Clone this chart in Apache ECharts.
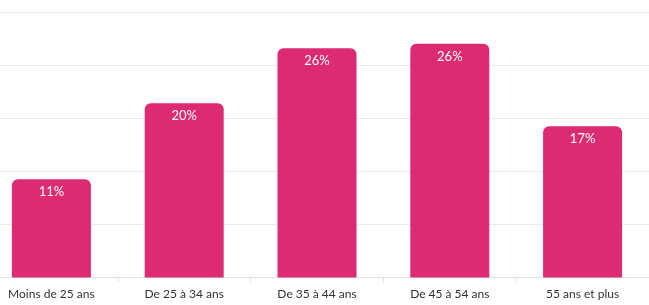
<!DOCTYPE html>
<html>
<head>
<meta charset="utf-8">
<script src="https://cdn.jsdelivr.net/npm/echarts@6/dist/echarts.min.js"></script>
<style>
  html, body { margin: 0; padding: 0; background: #fff; overflow: hidden; }
  /* la grille deborde un peu a gauche dans l'original */
  #main { width: 664px; height: 305px; margin-left: -15px; }
</style>
</head>
<body>
<div id="main"></div>
<script>
  // tranches d'age et parts en %
  var categories = ['Moins de 25 ans', 'De 25 à 34 ans', 'De 35 à 44 ans', 'De 45 à 54 ans', '55 ans et plus'];
  var values = [11.1, 19.7, 25.9, 26.4, 17.1];

  var chart = echarts.init(document.getElementById('main'));

  chart.setOption({
    animation: false,
    grid: {
      left: 0,
      right: 0,
      top: 12,
      bottom: 27.5,
      containLabel: false
    },
    xAxis: {
      type: 'category',
      data: categories,
      axisLine: { lineStyle: { color: '#e3e3e3', width: 1 } },
      axisTick: { show: true, length: 5, lineStyle: { color: '#e3e3e3' } },
      axisLabel: {
        color: '#333',
        fontSize: 12,
        fontFamily: 'Lato',
        margin: 11
      }
    },
    yAxis: {
      type: 'value',
      min: 0,
      max: 30,
      interval: 6,
      axisLabel: { show: false },
      axisLine: { show: false },
      axisTick: { show: false },
      splitLine: { lineStyle: { color: '#ebebeb', width: 1 } }
    },
    series: [
      {
        type: 'bar',
        data: values,
        barWidth: 79,
        itemStyle: {
          color: '#DC2B72',
          borderRadius: [6, 6, 0, 0]
        },
        label: {
          show: true,
          position: 'insideTop',
          distance: 6,
          color: '#fff',
          fontSize: 13,
          fontFamily: 'Lato',
          formatter: function (p) {
            return Math.round(p.value) + '%';
          }
        }
      }
    ]
  });
</script>
</body>
</html>
